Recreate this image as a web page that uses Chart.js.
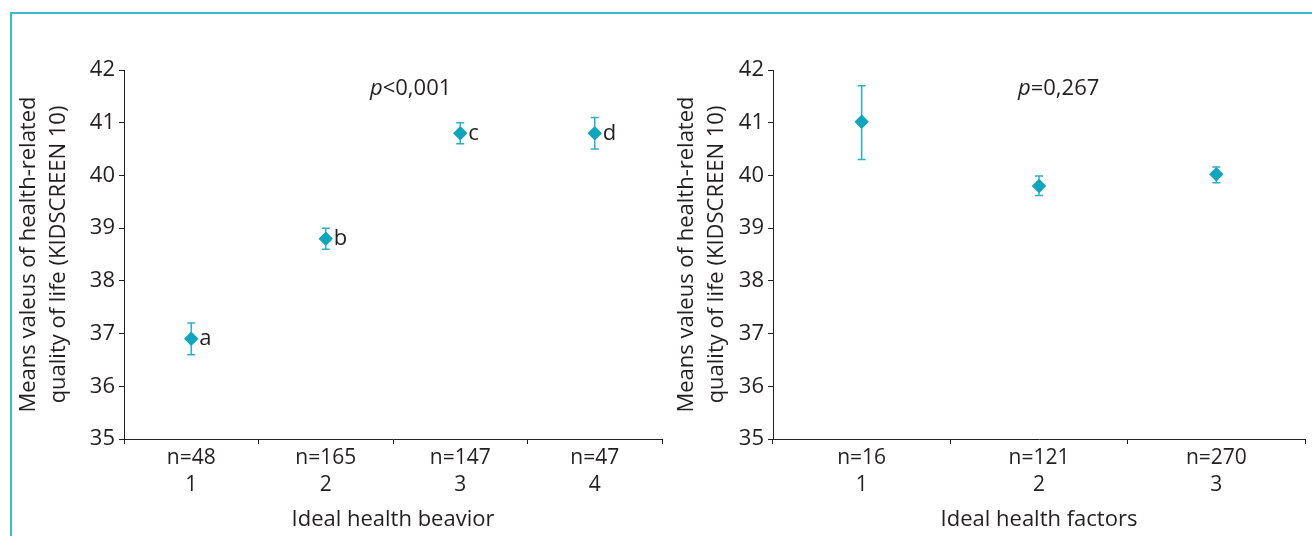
<!DOCTYPE html>
<html>
<head>
<meta charset="utf-8">
<script src="https://cdn.jsdelivr.net/npm/chart.js@4.4.0/dist/chart.umd.min.js"></script>
<style>
  html,body{margin:0;padding:0;background:#fff;}
  #wrap{position:relative;width:1312px;height:536px;overflow:hidden;background:#fff;}
  #frame{position:absolute;left:10px;top:12px;width:1320px;height:600px;border-left:2px solid #3db9cf;border-top:2px solid #3db9cf;box-sizing:border-box;}
  #c1box{position:absolute;left:0;top:0;width:670px;height:536px;}
  #c2box{position:absolute;left:650px;top:0;width:662px;height:536px;}
</style>
</head>
<body>
<div id="wrap">
  <div id="frame"></div>
  <div id="c1box"><canvas id="c1"></canvas></div>
  <div id="c2box"><canvas id="c2"></canvas></div>
</div>
<script>
// ---- data: left panel (Ideal health behavior)
const behaviorCategories = [["n=48","1"],["n=165","2"],["n=147","3"],["n=47","4"]];
const behaviorMeans = [36.9, 38.8, 40.8, 40.8];
const behaviorLower = [36.6, 38.6, 40.6, 40.5];
const behaviorUpper = [37.2, 39.0, 41.0, 41.1];
const behaviorLetters = ["a","b","c","d"];
const behaviorP = "<0,001";

// ---- data: right panel (Ideal health factors)
const factorCategories = [["n=16","1"],["n=121","2"],["n=270","3"]];
const factorMeans = [41.02, 39.8, 40.02];
const factorLower = [40.3, 39.62, 39.86];
const factorUpper = [41.7, 39.99, 40.16];
const factorLetters = ["","",""];
const factorP = "=0,267";

const yTitle = ["Means valeus of health-related","quality of life (KIDSCREEN 10)"];
const FONT = "'Open Sans', 'Noto Sans', sans-serif";
const TXT = "#231f20";
const MARK = "#0ea5bd";
const ERR = "#2bb0c8";

const errorBarPlugin = {
  id: 'errbars',
  afterDatasetsDraw(chart, args, opts) {
    const ctx = chart.ctx, ys = chart.scales.y;
    const meta = chart.getDatasetMeta(0);
    ctx.save();
    ctx.strokeStyle = ERR; ctx.lineWidth = 1.5;
    opts.lower.forEach((lo, i) => {
      const x = meta.data[i].x;
      const yl = ys.getPixelForValue(lo), yu = ys.getPixelForValue(opts.upper[i]);
      ctx.beginPath();
      ctx.moveTo(x, yl); ctx.lineTo(x, yu);
      ctx.moveTo(x-4, yl); ctx.lineTo(x+4, yl);
      ctx.moveTo(x-4, yu); ctx.lineTo(x+4, yu);
      ctx.stroke();
    });
    meta.data.forEach(p => p.draw(ctx, chart.chartArea));
    ctx.fillStyle = TXT; ctx.font = "22px " + FONT; ctx.textBaseline = 'middle'; ctx.textAlign='left';
    opts.letters.forEach((l, i) => {
      const p = meta.data[i];
      if (l) ctx.fillText(l, p.x + 8, p.y);
    });
    const px = opts.pX;
    ctx.font = "italic 22px " + FONT;
    ctx.textBaseline = 'alphabetic';
    ctx.fillText("p", px, 95);
    const w = ctx.measureText("p").width;
    ctx.font = "22px " + FONT;
    ctx.fillText(opts.pText, px + w, 95);
    ctx.restore();
  }
};

function makeChart(id, cats, means, lo, up, letters, xTitle, pX, pText, padRight, yW, yTitlePad) {
  return new Chart(document.getElementById(id), {
    type: 'line',
    data: {
      labels: cats,
      datasets: [{
        data: means,
        showLine: false,
        pointStyle: 'rectRot',
        pointRadius: 7,
        pointHoverRadius: 7,
        backgroundColor: MARK,
        borderColor: MARK,
        borderWidth: 0
      }]
    },
    options: {
      responsive: true,
      maintainAspectRatio: false,
      animation: false,
      events: [],
      layout: { padding: { left: 0, top: 70, right: padRight, bottom: 0 } },
      plugins: {
        legend: { display: false },
        tooltip: { enabled: false },
        errbars: { lower: lo, upper: up, letters: letters, pX: pX, pText: pText }
      },
      scales: {
        x: {
          type: 'category',
          offset: true,
          grid: { offset: true, drawOnChartArea: false, drawTicks: true, tickLength: 5, color: TXT, lineWidth: 1 },
          border: { display: true, color: TXT, width: 1 },
          ticks: { color: TXT, font: { family: FONT, size: 21, lineHeight: 1.3 }, padding: 0, maxRotation: 0, autoSkip: false },
          title: { display: true, text: xTitle, color: TXT, font: { family: FONT, size: 22, lineHeight: 1.2 }, padding: { top: 0, bottom: 3 } },
          afterFit(s) { s.height = 97; }
        },
        y: {
          min: 35, max: 42,
          ticks: { stepSize: 1, color: TXT, font: { family: FONT, size: 22 }, padding: 4 },
          grid: { drawOnChartArea: false, drawTicks: true, tickLength: 5, color: TXT },
          border: { display: true, color: TXT, width: 1 },
          title: { display: true, text: yTitle, color: TXT, font: { family: FONT, size: 22, lineHeight: 1.36 }, padding: { top: yTitlePad, bottom: 0 } },
          afterFit(s) { s.width = yW; }
        }
      }
    },
    plugins: [errorBarPlugin]
  });
}

makeChart('c1', behaviorCategories, behaviorMeans, behaviorLower, behaviorUpper, behaviorLetters, "Ideal health beavior", 370, behaviorP, 8, 124, 14);
makeChart('c2', factorCategories, factorMeans, factorLower, factorUpper, factorLetters, "Ideal health factors", 368, factorP, 2, 123, 22);
</script>
</body>
</html>
